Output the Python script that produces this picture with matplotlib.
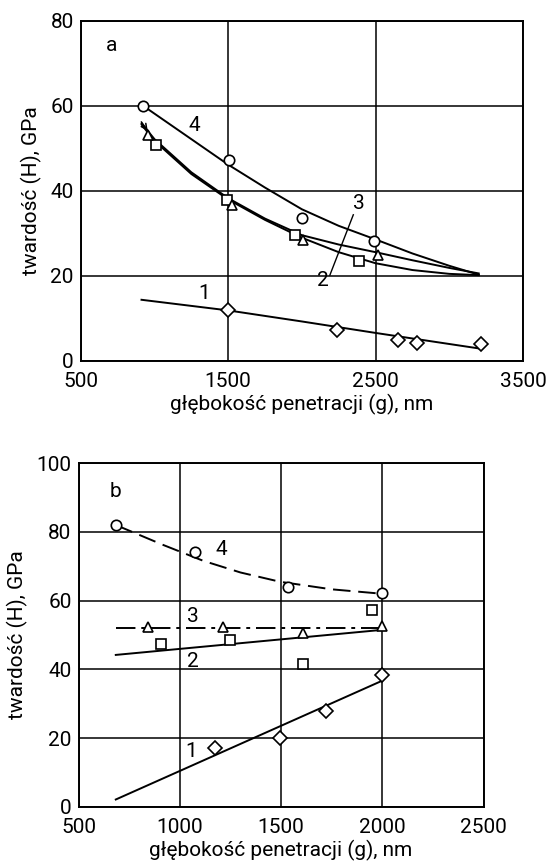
import matplotlib
matplotlib.use('Agg')
import matplotlib.pyplot as plt

plt.rcParams['font.family'] = ['Roboto', 'DejaVu Sans']

# ---------------- panel a ----------------
a_xticks = [500, 1500, 2500, 3500]
a_yticks = [0, 20, 40, 60, 80]

a1_x = [1500, 2235, 2649, 2780, 3218]
a1_y = [12.1, 7.2, 5.0, 4.2, 4.1]
a1_fit_x = [912, 1500, 2000, 2500, 3211]
a1_fit_y = [14.4, 11.9, 9.3, 6.6, 2.9]

a2_x = [1010, 1494, 1953, 2389]
a2_y = [50.8, 37.9, 29.6, 23.5]
a2_fit_x = [913, 1000, 1250, 1500, 1750, 2000, 2250, 2500, 2750, 3000, 3200]
a2_fit_y = [55.6, 51.8, 44.0, 38.0, 33.2, 29.0, 25.6, 23.0, 21.4, 20.5, 20.2]

a3_x = [958, 1524, 2005, 2518]
a3_y = [53.2, 36.7, 28.5, 24.9]
a3_fit_x = [913, 1000, 1250, 1500, 1750, 2000, 2250, 2500, 2750, 3000, 3200]
a3_fit_y = [55.9, 52.2, 44.4, 38.3, 33.5, 29.6, 27.4, 25.6, 23.7, 21.9, 20.6]

a4_x = [925, 1508, 1998, 2489]
a4_y = [60.0, 47.3, 33.6, 28.2]
a4_fit_x = [925, 1250, 1500, 1750, 2000, 2250, 2500, 2750, 3000, 3200]
a4_fit_y = [60.0, 52.2, 46.2, 40.8, 35.7, 31.8, 28.6, 25.3, 22.4, 20.3]

# ---------------- panel b ----------------
b_xticks = [500, 1000, 1500, 2000, 2500]
b_yticks = [0, 20, 40, 60, 80, 100]

b1_x = [1175, 1495, 1722, 2000]
b1_y = [17.0, 19.9, 27.9, 38.3]
b1_fit_x = [684, 2000]
b1_fit_y = [2.1, 36.7]

b2_x = [907, 1248, 1607, 1948]
b2_y = [47.4, 48.5, 41.6, 57.3]
b2_fit_x = [684, 2000]
b2_fit_y = [44.2, 51.5]

b3_x = [845, 1215, 1607, 1997]
b3_y = [52.2, 52.2, 50.7, 52.6]
b3_fit_x = [684, 2000]
b3_fit_y = [52.0, 52.0]

b4_x = [685, 1075, 1533, 2000]
b4_y = [82.0, 74.1, 64.1, 62.3]
b4_fit_x = [685, 919, 1116, 1300, 1495, 1750, 2000]
b4_fit_y = [82.0, 76.2, 71.6, 68.2, 65.5, 63.3, 62.0]

xlabel = 'głębokość penetracji (g), nm'
ylabel = 'twardość (H), GPa'

FS = 15
LW = 1.4
MS = 7.5
MEW = 1.2

fig = plt.figure(figsize=(5.51, 8.64), dpi=100)
axa = fig.add_axes([0.1466, 0.5822, 0.8025, 0.3935])
axb = fig.add_axes([0.1425, 0.0663, 0.735, 0.3975])


def style(ax, xt, yt):
    ax.set_xlim(xt[0], xt[-1])
    ax.set_ylim(yt[0], yt[-1])
    ax.set_xticks(xt)
    ax.set_yticks(yt)
    ax.tick_params(length=0, labelsize=FS)
    ax.tick_params(axis='y', pad=5)
    ax.tick_params(axis='x', pad=8)
    ax.grid(True, color='black', linewidth=1.1)
    for s in ax.spines.values():
        s.set_linewidth(1.4)
    ax.set_xlabel(xlabel, fontsize=FS, labelpad=2)
    ax.set_ylabel(ylabel, fontsize=FS, labelpad=6)


def mk(ax, x, y, m, ms=MS):
    ax.plot(x, y, linestyle='none', marker=m, markersize=ms,
            markerfacecolor='white', markeredgecolor='black',
            markeredgewidth=MEW, zorder=4)


style(axa, a_xticks, a_yticks)
axa.plot(a1_fit_x, a1_fit_y, color='black', lw=LW, zorder=3)
axa.plot(a2_fit_x, a2_fit_y, color='black', lw=LW, zorder=3)
axa.plot(a3_fit_x, a3_fit_y, color='black', lw=LW, zorder=3)
axa.plot(a4_fit_x, a4_fit_y, color='black', lw=LW, zorder=3)
mk(axa, a1_x, a1_y, 'D', 7)
mk(axa, a2_x, a2_y, 's', 7)
mk(axa, a3_x, a3_y, '^', 7.5)
mk(axa, a4_x, a4_y, 'o')
axa.plot([2349, 2190], [34.4, 20.2], color='black', lw=1.0, zorder=3)
axa.annotate('', xy=(965, 53.6), xytext=(900, 56.8),
             arrowprops=dict(arrowstyle='->', lw=1.1, color='black'))
for t, x, y in [('a', 711, 74.3), ('4', 1270, 55.5), ('3', 2390, 37.1),
                ('2', 2140, 19.0), ('1', 1334, 15.8)]:
    axa.text(x, y, t, fontsize=FS, ha='center', va='center', zorder=5)

style(axb, b_xticks, b_yticks)
axb.plot(b1_fit_x, b1_fit_y, color='black', lw=LW, zorder=3)
axb.plot(b2_fit_x, b2_fit_y, color='black', lw=LW, zorder=3)
axb.plot(b3_fit_x, b3_fit_y, color='black', lw=LW, zorder=3,
         dashes=(10, 3, 2, 3))
axb.plot(b4_fit_x, b4_fit_y, color='black', lw=LW, zorder=3,
         dashes=(9, 4))
mk(axb, b1_x, b1_y, 'D', 7)
mk(axb, b2_x, b2_y, 's', 7)
mk(axb, b3_x, b3_y, '^', 7.5)
mk(axb, b4_x, b4_y, 'o')
for t, x, y in [('b', 684, 91.7), ('4', 1207, 75.0), ('3', 1064, 55.5),
                ('2', 1064, 42.2), ('1', 1057, 16.0)]:
    axb.text(x, y, t, fontsize=FS, ha='center', va='center', zorder=5)

fig.savefig('out.png', dpi=100)
